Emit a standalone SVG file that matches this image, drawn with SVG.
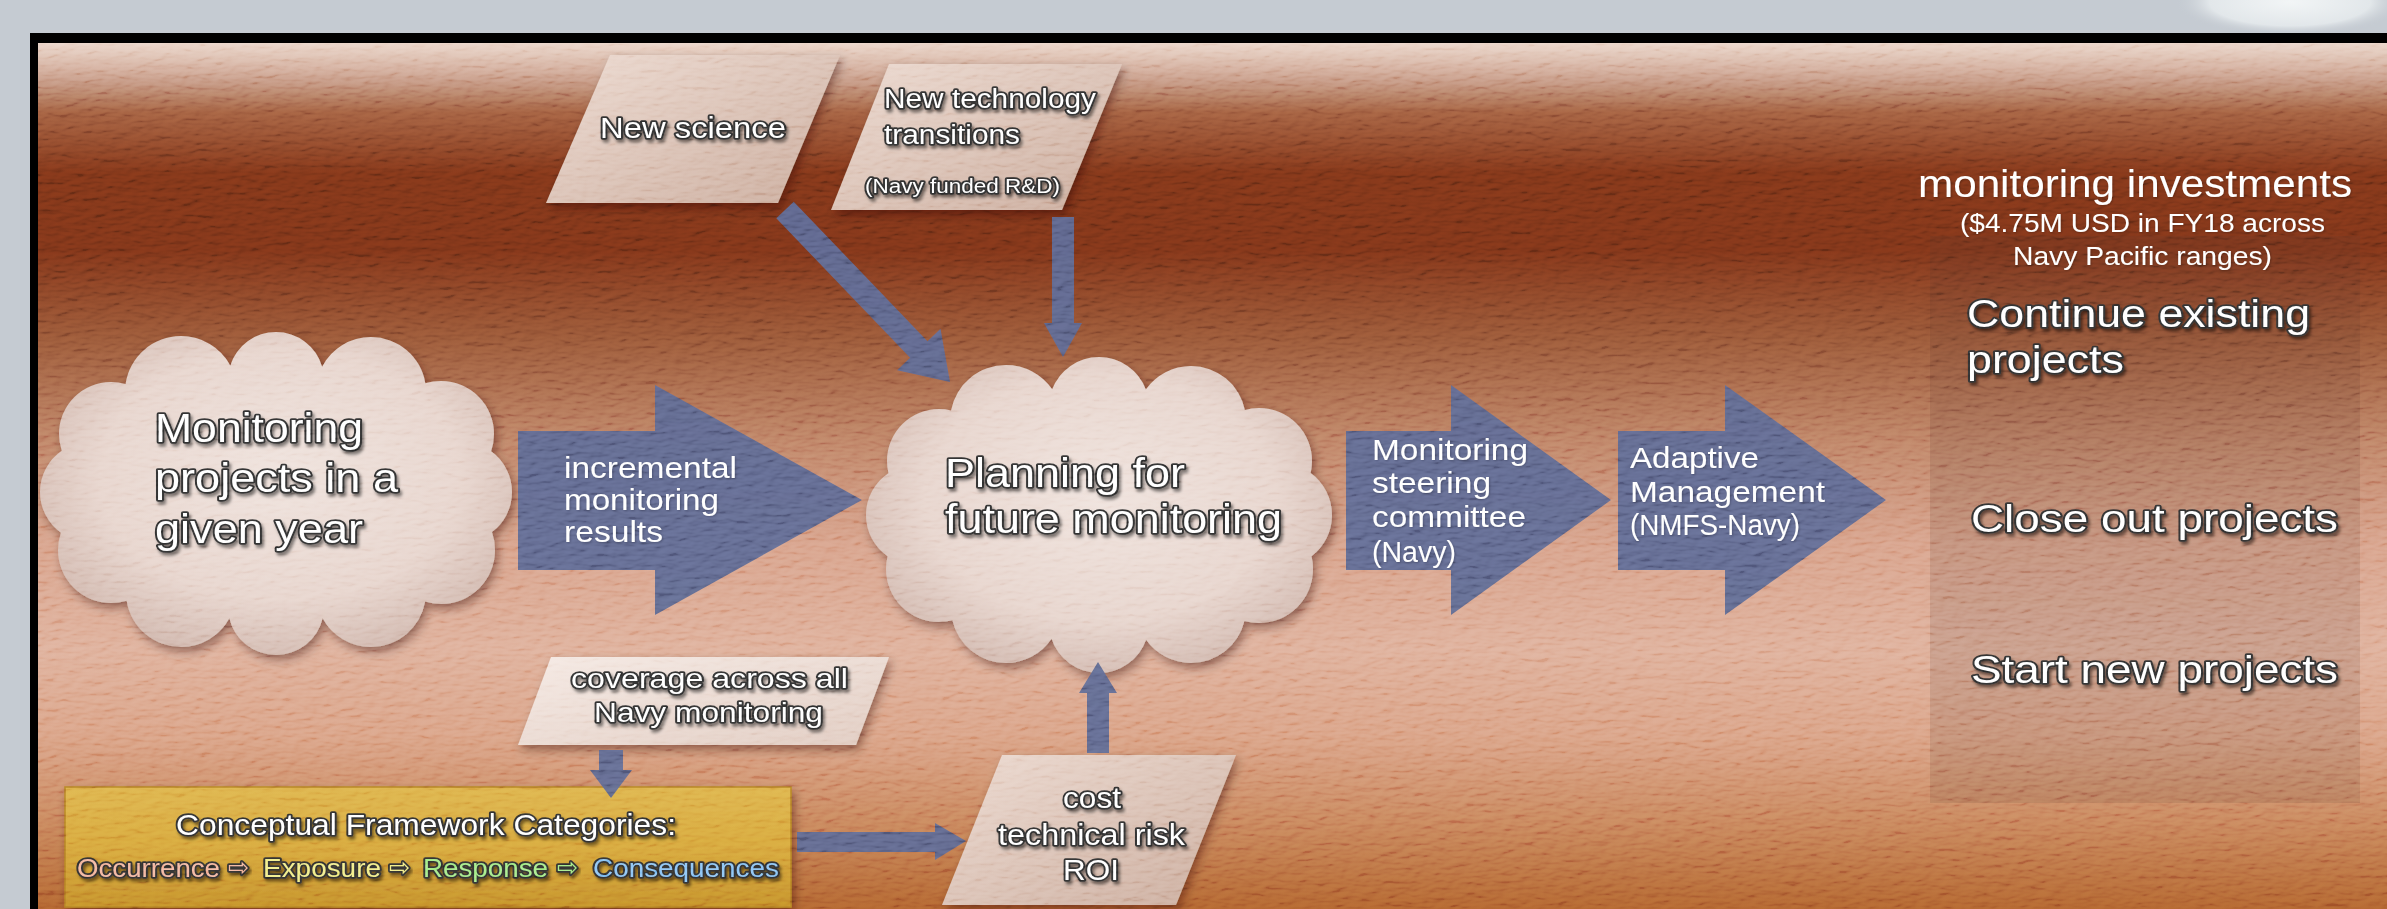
<svg xmlns="http://www.w3.org/2000/svg" width="2387" height="909" viewBox="0 0 2387 909">
<defs>
<style>
.txt{font-family:"Liberation Sans",Arial,"DejaVu Sans",sans-serif}
.otxt{font-family:"Liberation Sans",Arial,"DejaVu Sans",sans-serif;fill:#ffffff;stroke:#333333;stroke-width:3.6;paint-order:stroke;stroke-linejoin:round;filter:url(#tshadow)}
.wtxt{font-family:"Liberation Sans",Arial,"DejaVu Sans",sans-serif;fill:#ffffff;filter:url(#tsoft)}
.sym{font-family:"DejaVu Sans",sans-serif}
.arrow{fill:#5b668f;fill-opacity:0.95}
.para{filter:url(#shadow)}
</style>
<linearGradient id="bgGrad" x1="0" y1="0" x2="0" y2="1">
<stop offset="0" stop-color="#ead5c9"/>
<stop offset="0.03" stop-color="#d3ad9b"/>
<stop offset="0.08" stop-color="#a15e40"/>
<stop offset="0.15" stop-color="#7e3519"/>
<stop offset="0.24" stop-color="#7d3419"/>
<stop offset="0.34" stop-color="#975637"/>
<stop offset="0.46" stop-color="#bd8064"/>
<stop offset="0.58" stop-color="#d7a088"/>
<stop offset="0.7" stop-color="#deae98"/>
<stop offset="0.8" stop-color="#d9a083"/>
<stop offset="0.9" stop-color="#c7825a"/>
<stop offset="1" stop-color="#b0622f"/>
</linearGradient>
<linearGradient id="paraGrad" x1="0" y1="0" x2="1" y2="1">
<stop offset="0" stop-color="#ecd9cf"/>
<stop offset="1" stop-color="#c9a999"/>
</linearGradient>
<linearGradient id="paraLight" x1="0" y1="0" x2="1" y2="1">
<stop offset="0" stop-color="#f5e9e3"/>
<stop offset="1" stop-color="#e0cabf"/>
</linearGradient>
<linearGradient id="goldGrad" x1="0" y1="0" x2="0" y2="1">
<stop offset="0" stop-color="#ddb24c"/>
<stop offset="0.5" stop-color="#d6a53c"/>
<stop offset="1" stop-color="#c38d2b"/>
</linearGradient>
<radialGradient id="cloudGrad" cx="0.5" cy="0.45" r="0.6">
<stop offset="0" stop-color="#efe2dc"/>
<stop offset="0.6" stop-color="#e7d4cc"/>
<stop offset="1" stop-color="#c9ada2"/>
</radialGradient>
<radialGradient id="blobGrad" cx="0.5" cy="0.5" r="0.5">
<stop offset="0" stop-color="#f2f5f6"/>
<stop offset="0.7" stop-color="#e2e7ea"/>
<stop offset="1" stop-color="#c5cbd2" stop-opacity="0"/>
</radialGradient>
<clipPath id="clipL">
<ellipse cx="276" cy="492" rx="200" ry="125"/>
<circle cx="462" cy="492" r="50"/>
<circle cx="441" cy="550" r="54"/>
<circle cx="371" cy="592" r="55"/>
<circle cx="276" cy="607" r="48"/>
<circle cx="181" cy="592" r="55"/>
<circle cx="111" cy="550" r="53"/>
<circle cx="90" cy="492" r="50"/>
<circle cx="111" cy="434" r="52"/>
<circle cx="181" cy="392" r="56"/>
<circle cx="276" cy="380" r="48"/>
<circle cx="371" cy="392" r="55"/>
<circle cx="441" cy="434" r="53"/>
</clipPath>
<clipPath id="clipC">
<ellipse cx="1099" cy="515" rx="197" ry="120"/>
<circle cx="1280" cy="515" r="52"/>
<circle cx="1259" cy="569" r="54"/>
<circle cx="1191" cy="608" r="55"/>
<circle cx="1099" cy="623" r="50"/>
<circle cx="1006" cy="608" r="55"/>
<circle cx="939" cy="569" r="53"/>
<circle cx="916" cy="515" r="50"/>
<circle cx="939" cy="461" r="52"/>
<circle cx="1006" cy="421" r="56"/>
<circle cx="1099" cy="407" r="50"/>
<circle cx="1191" cy="421" r="55"/>
<circle cx="1259" cy="461" r="53"/>
</clipPath>
<filter id="shadow" x="-10%" y="-10%" width="125%" height="130%">
<feDropShadow dx="3" dy="5" stdDeviation="5" flood-color="#2a0e04" flood-opacity="0.45"/>
</filter>
<filter id="tshadow" x="-5%" y="-20%" width="115%" height="150%">
<feDropShadow dx="2" dy="3" stdDeviation="1.5" flood-color="#000000" flood-opacity="0.5"/>
</filter>
<filter id="tsoft" x="-5%" y="-20%" width="115%" height="150%">
<feDropShadow dx="1" dy="1" stdDeviation="1" flood-color="#000000" flood-opacity="0.25"/>
</filter>
<filter id="grain" x="0" y="0" width="100%" height="100%">
<feTurbulence type="fractalNoise" baseFrequency="0.07 0.18" numOctaves="2" seed="11" result="n"/>
<feDiffuseLighting in="n" surfaceScale="2" diffuseConstant="1" lighting-color="#ffffff" result="l">
<feDistantLight azimuth="235" elevation="55"/>
</feDiffuseLighting>
<feComponentTransfer>
<feFuncR type="linear" slope="1.6" intercept="-0.8"/>
<feFuncG type="linear" slope="1.6" intercept="-0.8"/>
<feFuncB type="linear" slope="1.6" intercept="-0.8"/>
</feComponentTransfer>
</filter>
</defs>

<rect class="bg" x="0" y="0" width="2387" height="909" fill="#c5cbd2"/>
<ellipse cx="2290" cy="2" rx="115" ry="34" fill="url(#blobGrad)"/>
<rect x="30" y="33" width="2400" height="900" fill="#000000"/>
<rect x="38" y="43" width="2360" height="866" fill="url(#bgGrad)"/>

<g id="panel-investments">
<rect x="1930" y="236" width="430" height="567" fill="#5a3a34" fill-opacity="0.16"/>
<text class="wtxt" x="1918" y="197" font-size="38" textLength="434" lengthAdjust="spacingAndGlyphs">monitoring investments</text>
<text class="wtxt" x="1960" y="232" font-size="25" textLength="365" lengthAdjust="spacingAndGlyphs">($4.75M USD in FY18 across</text>
<text class="wtxt" x="2013" y="265" font-size="25" textLength="259" lengthAdjust="spacingAndGlyphs">Navy Pacific ranges)</text>
<text class="otxt" x="1967" y="327" font-size="39" textLength="343" lengthAdjust="spacingAndGlyphs">Continue existing</text>
<text class="otxt" x="1967" y="373" font-size="39" textLength="157" lengthAdjust="spacingAndGlyphs">projects</text>
<text class="otxt" x="1971" y="532" font-size="39" textLength="367" lengthAdjust="spacingAndGlyphs">Close out projects</text>
<text class="otxt" x="1971" y="683" font-size="39" textLength="367" lengthAdjust="spacingAndGlyphs">Start new projects</text>
</g>

<g id="node-monitoring-projects">
<g filter="url(#shadow)"><rect x="30" y="320" width="500" height="345" fill="url(#cloudGrad)" clip-path="url(#clipL)"/></g>
<text class="otxt" x="155" y="442" font-size="40" textLength="208" lengthAdjust="spacingAndGlyphs">Monitoring</text>
<text class="otxt" x="155" y="492" font-size="40" textLength="243" lengthAdjust="spacingAndGlyphs">projects in a</text>
<text class="otxt" x="155" y="543" font-size="40" textLength="208" lengthAdjust="spacingAndGlyphs">given year</text>
</g>

<g id="node-planning">
<g filter="url(#shadow)"><rect x="855" y="345" width="490" height="340" fill="url(#cloudGrad)" clip-path="url(#clipC)"/></g>
<text class="otxt" x="945" y="487" font-size="40" textLength="240" lengthAdjust="spacingAndGlyphs">Planning for</text>
<text class="otxt" x="945" y="533" font-size="40" textLength="337" lengthAdjust="spacingAndGlyphs">future monitoring</text>
</g>

<g id="node-new-science">
<polygon class="para" points="610,55 840,55 778,203 546,203" fill="url(#paraGrad)"/>
<text class="otxt" x="600" y="138" font-size="29" textLength="186" lengthAdjust="spacingAndGlyphs">New science</text>
</g>

<g id="node-new-technology">
<polygon class="para" points="889,64 1122,64 1062,210 831,210" fill="url(#paraGrad)"/>
<text class="otxt" x="884" y="108" font-size="27" textLength="212" lengthAdjust="spacingAndGlyphs">New technology</text>
<text class="otxt" x="884" y="144" font-size="27" textLength="136" lengthAdjust="spacingAndGlyphs">transitions</text>
<text class="otxt" x="865" y="193" font-size="20" textLength="195" lengthAdjust="spacingAndGlyphs">(Navy funded R&amp;D)</text>
</g>

<g id="node-coverage">
<polygon class="para" points="551,657 889,657 856,745 518,745" fill="url(#paraLight)"/>
<text class="otxt" x="571" y="688" font-size="28" textLength="277" lengthAdjust="spacingAndGlyphs">coverage across all</text>
<text class="otxt" x="594" y="722" font-size="28" textLength="229" lengthAdjust="spacingAndGlyphs">Navy monitoring</text>
</g>

<g id="node-framework">
<rect x="65" y="787" width="726" height="120" fill="url(#goldGrad)" stroke="#b27f25" stroke-width="1.5" filter="url(#shadow)"/>
<text class="otxt" x="176" y="835" font-size="29" textLength="500" lengthAdjust="spacingAndGlyphs">Conceptual Framework Categories:</text>
<text class="otxt" x="77" y="877" font-size="25" textLength="143" lengthAdjust="spacingAndGlyphs" style="fill:#f4b7a0">Occurrence</text>
<text class="otxt sym" x="228" y="876" font-size="25" style="fill:#f4b7a0">⇨</text>
<text class="otxt" x="263" y="877" font-size="25" textLength="118" lengthAdjust="spacingAndGlyphs" style="fill:#f2ee8a">Exposure</text>
<text class="otxt sym" x="389" y="876" font-size="25" style="fill:#f2ee8a">⇨</text>
<text class="otxt" x="423" y="877" font-size="25" textLength="125" lengthAdjust="spacingAndGlyphs" style="fill:#a6ec8a">Response</text>
<text class="otxt sym" x="557" y="876" font-size="25" style="fill:#a6ec8a">⇨</text>
<text class="otxt" x="593" y="877" font-size="25" textLength="186" lengthAdjust="spacingAndGlyphs" style="fill:#8cc4f4">Consequences</text>
</g>

<g id="node-cost">
<polygon class="para" points="1002,755 1236,755 1176,905 942,905" fill="url(#paraGrad)"/>
<text class="otxt" x="1063" y="808" font-size="29" textLength="58" lengthAdjust="spacingAndGlyphs">cost</text>
<text class="otxt" x="998" y="845" font-size="29" textLength="187" lengthAdjust="spacingAndGlyphs">technical risk</text>
<text class="otxt" x="1063" y="880" font-size="29" textLength="56" lengthAdjust="spacingAndGlyphs">ROI</text>
</g>

<g id="node-incremental">
<polygon class="arrow" points="518,431 655,431 655,385 862,500 655,615 655,570 518,570"/>
<text class="wtxt" x="564" y="478" font-size="30" textLength="173" lengthAdjust="spacingAndGlyphs">incremental</text>
<text class="wtxt" x="564" y="510" font-size="30" textLength="155" lengthAdjust="spacingAndGlyphs">monitoring</text>
<text class="wtxt" x="564" y="542" font-size="30" textLength="99" lengthAdjust="spacingAndGlyphs">results</text>
</g>

<g id="node-steering">
<polygon class="arrow" points="1346,431 1451,431 1451,385 1611,500 1451,615 1451,570 1346,570"/>
<text class="wtxt" x="1372" y="460" font-size="30" textLength="156" lengthAdjust="spacingAndGlyphs">Monitoring</text>
<text class="wtxt" x="1372" y="493" font-size="30" textLength="119" lengthAdjust="spacingAndGlyphs">steering</text>
<text class="wtxt" x="1372" y="527" font-size="30" textLength="154" lengthAdjust="spacingAndGlyphs">committee</text>
<text class="wtxt" x="1372" y="562" font-size="30" textLength="84" lengthAdjust="spacingAndGlyphs">(Navy)</text>
</g>

<g id="node-adaptive">
<polygon class="arrow" points="1618,431 1725,431 1725,385 1886,500 1725,615 1725,570 1618,570"/>
<text class="wtxt" x="1630" y="468" font-size="30" textLength="129" lengthAdjust="spacingAndGlyphs">Adaptive</text>
<text class="wtxt" x="1630" y="502" font-size="30" textLength="195" lengthAdjust="spacingAndGlyphs">Management</text>
<text class="wtxt" x="1630" y="535" font-size="30" textLength="170" lengthAdjust="spacingAndGlyphs">(NMFS-Navy)</text>
</g>

<g id="connectors">
<polygon class="arrow" points="793.7,201.7 927.5,341.2 940.5,328.7 950,382 897.1,370.3 910.1,357.8 776.3,218.3"/>
<polygon class="arrow" points="1052,217 1074,217 1074,323 1082,323 1063,357 1044,323 1052,323"/>
<polygon class="arrow" points="599,750 623,750 623,770 632,770 611,798 590,770 599,770"/>
<polygon class="arrow" points="797,832 935,832 935,823 966,841 935,860 935,852 797,852"/>
<polygon class="arrow" points="1087,753 1109,753 1109,693 1117,693 1098,662 1079,693 1087,693"/>
</g>

<rect x="38" y="43" width="2360" height="866" filter="url(#grain)" opacity="0.16" style="mix-blend-mode:overlay;pointer-events:none"/>
</svg>
